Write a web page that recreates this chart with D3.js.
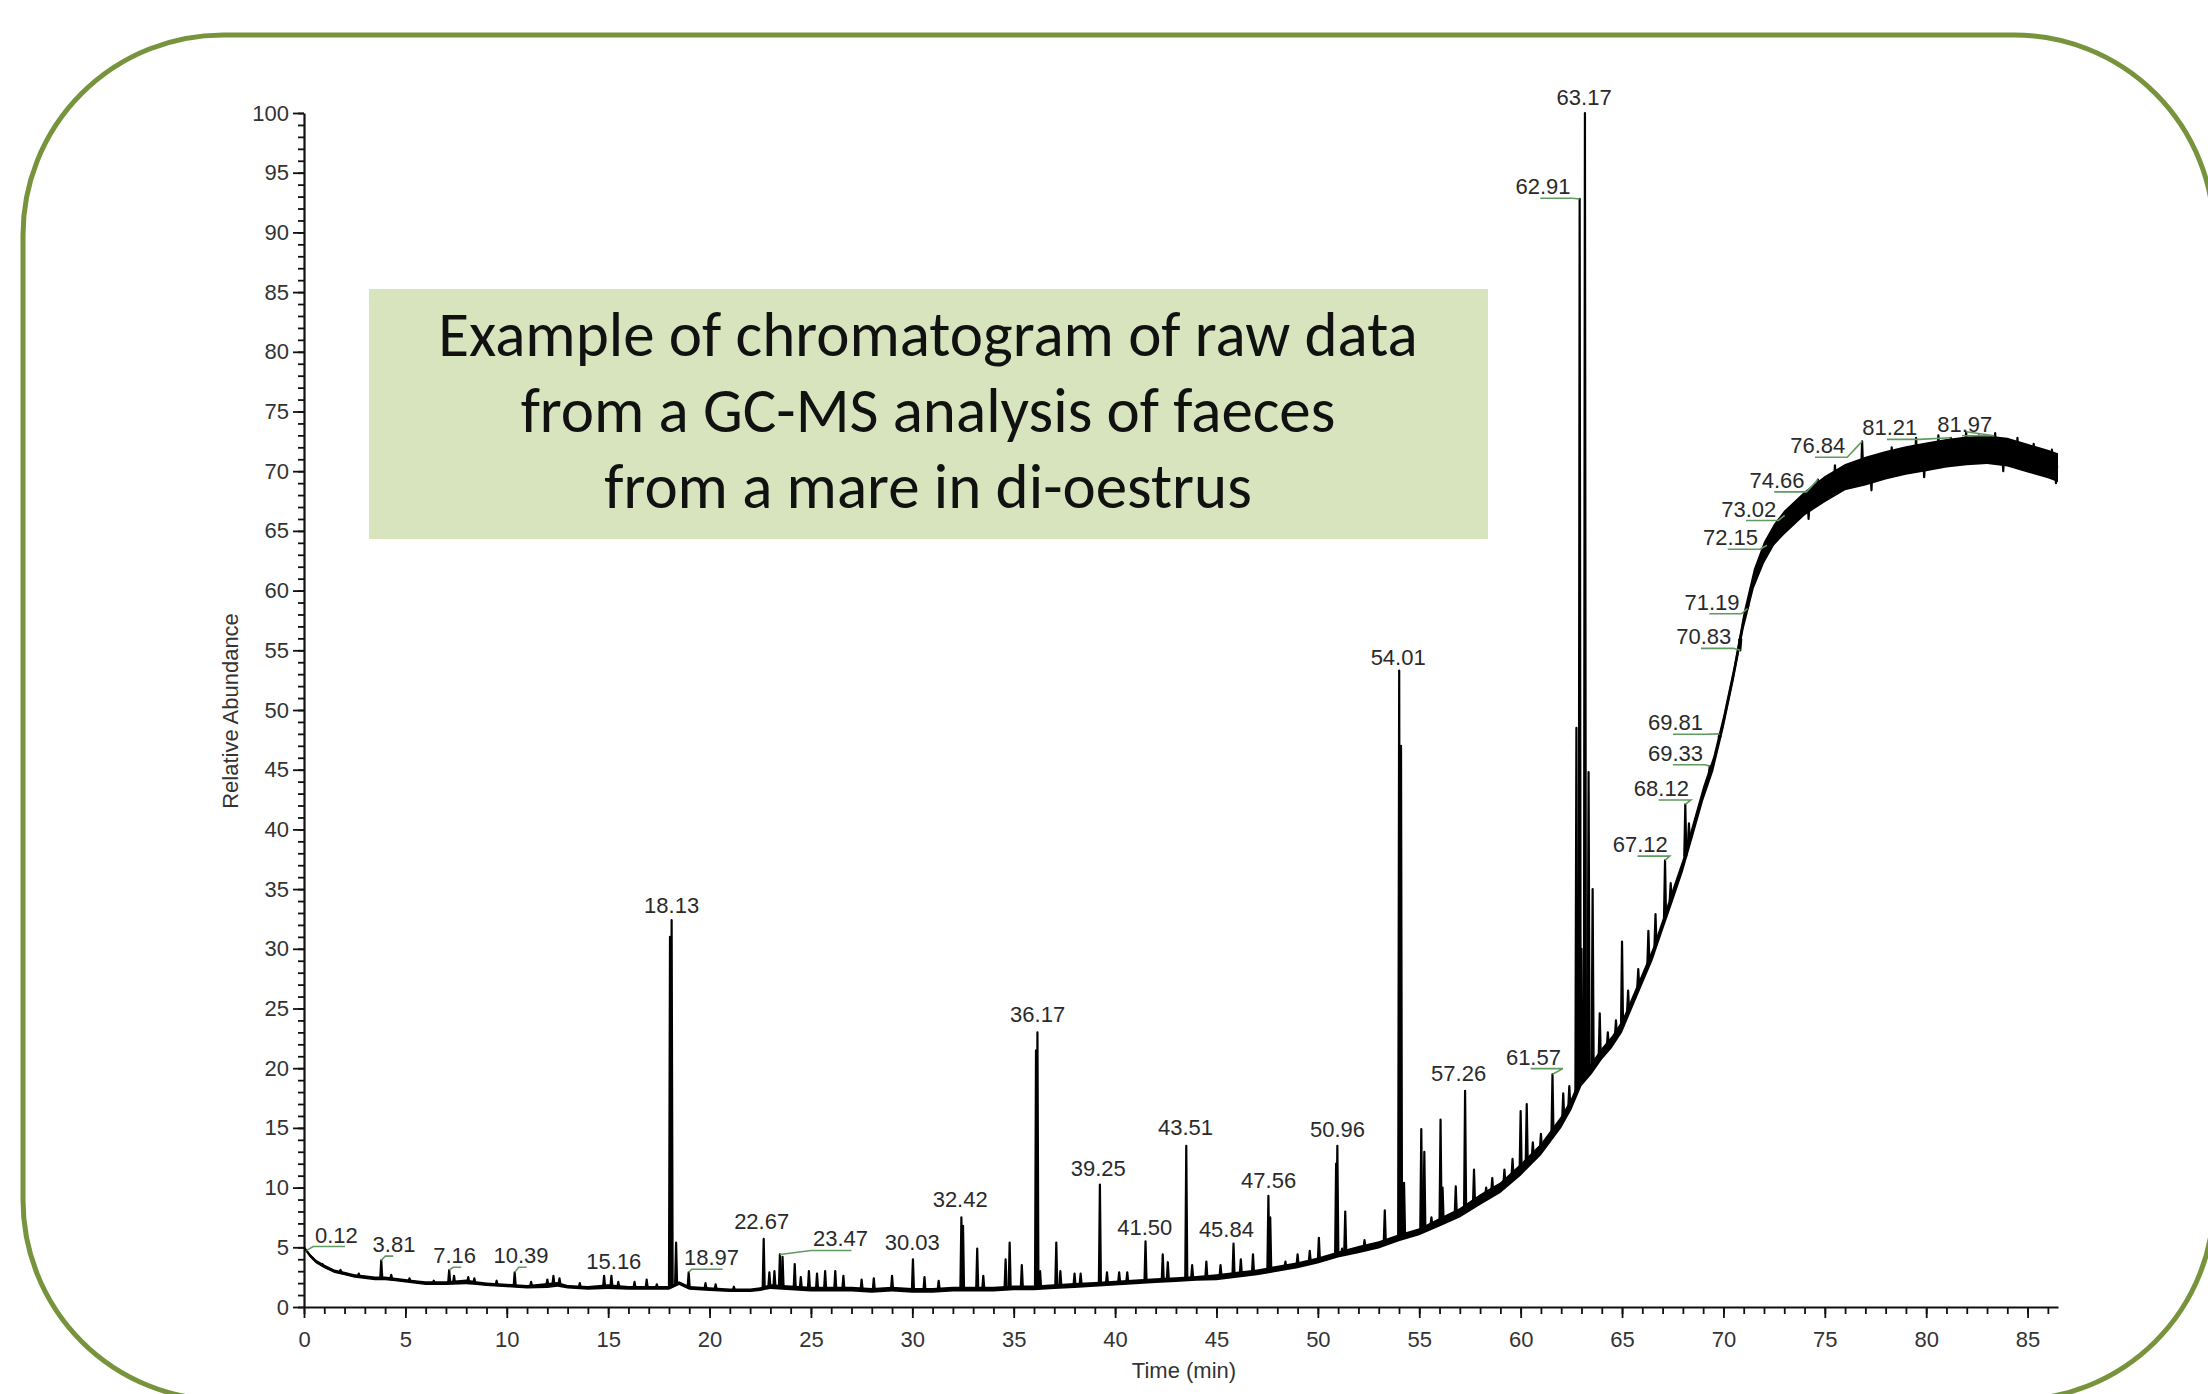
<!DOCTYPE html>
<html>
<head>
<meta charset="utf-8">
<script src="https://cdn.jsdelivr.net/npm/d3@7"></script>
<style>
  html, body { margin: 0; padding: 0; background: #fff; }
  svg { display: block; }
</style>
</head>
<body>
<div id="chart"></div>
<script>
// trace: [time (min), baseline level, half-thickness of the noisy band]
const trace = [
  [0, 5.0, 0.1], [0.3, 4.3, 0.15], [0.6, 3.8, 0.15], [1, 3.4, 0.15], [1.5, 3.0, 0.15],
  [2, 2.8, 0.15], [2.5, 2.6, 0.15], [3, 2.5, 0.15], [3.5, 2.4, 0.15], [4, 2.4, 0.15],
  [4.5, 2.3, 0.15], [5, 2.2, 0.15], [5.5, 2.1, 0.15], [6, 2.0, 0.15], [7, 2.0, 0.15],
  [8, 2.1, 0.2], [8.5, 2.0, 0.15], [9, 1.9, 0.15], [10, 1.8, 0.15], [11, 1.7, 0.15],
  [12, 1.8, 0.2], [12.5, 1.9, 0.2], [13, 1.7, 0.15], [14, 1.6, 0.15], [15, 1.7, 0.2],
  [16, 1.6, 0.15], [17, 1.6, 0.15], [18, 1.6, 0.15], [18.5, 2.0, 0.15], [19, 1.6, 0.15],
  [20, 1.5, 0.15], [21, 1.4, 0.15], [22, 1.4, 0.15], [22.5, 1.5, 0.15], [23, 1.7, 0.2],
  [24, 1.6, 0.2], [25, 1.5, 0.2], [26, 1.5, 0.2], [27, 1.5, 0.2], [28, 1.4, 0.2],
  [29, 1.5, 0.2], [30, 1.4, 0.2], [31, 1.4, 0.2], [32, 1.5, 0.2], [33, 1.5, 0.2],
  [34, 1.5, 0.2], [35, 1.6, 0.2], [36, 1.6, 0.2], [37, 1.7, 0.2], [38, 1.8, 0.2],
  [39, 1.9, 0.2], [40, 2.0, 0.2], [41, 2.1, 0.2], [42, 2.2, 0.2], [43, 2.3, 0.2],
  [44, 2.4, 0.2], [45, 2.5, 0.25], [46, 2.7, 0.25], [47, 2.9, 0.25], [48, 3.2, 0.25],
  [49, 3.5, 0.25], [50, 3.9, 0.25], [51, 4.4, 0.25], [52, 4.8, 0.3], [53, 5.2, 0.3],
  [54, 5.8, 0.3], [55, 6.3, 0.3], [56, 7.1, 0.35], [57, 7.9, 0.4], [58, 9.0, 0.45],
  [59, 10.0, 0.45], [60, 11.5, 0.5], [61, 13.2, 0.5], [62, 15.5, 0.5], [62.5, 17.0, 0.5],
  [63, 19.0, 0.5], [63.5, 20.0, 0.5], [64, 21.2, 0.5], [64.5, 22.2, 0.5], [65, 23.5, 0.5],
  [65.5, 25.5, 0.5], [66, 27.5, 0.5], [66.5, 29.5, 0.5], [67, 32.0, 0.5], [67.5, 34.5, 0.55],
  [68, 37.0, 0.55], [68.5, 40.0, 0.6], [69, 43.0, 0.6], [69.5, 45.5, 0.6], [70, 49.0, 0.6],
  [70.5, 53.0, 0.6], [71, 57.5, 0.7], [71.5, 61.0, 0.8], [72, 63.2, 0.9], [72.5, 64.7, 0.9],
  [73, 65.7, 1.0], [74, 67.3, 1.0], [75, 68.5, 1.1], [76, 69.5, 1.1], [77, 70.0, 1.2],
  [78, 70.5, 1.2], [79, 70.9, 1.2], [80, 71.2, 1.2], [81, 71.5, 1.2], [82, 71.7, 1.2],
  [83, 71.8, 1.2], [84, 71.6, 1.2], [85, 71.1, 1.2], [86, 70.6, 1.2], [86.5, 70.3, 1.2]
];

// peaks: [retention time, apex abundance]
const peaks = [
  [0.9, 3.6], [1.8, 3.1], [2.7, 2.8], [3.81, 3.9], [4.3, 2.7], [5.2, 2.4], [6.4, 2.2],
  [7.16, 3.1], [7.4, 2.6], [8.1, 2.5], [8.4, 2.4], [9.5, 2.2], [10.39, 2.9], [11.2, 2.1],
  [12.0, 2.3], [12.3, 2.6], [12.6, 2.4], [13.6, 2.0], [14.8, 2.6], [15.16, 2.6],
  [15.5, 2.1], [16.3, 2.1], [16.9, 2.3], [17.4, 1.9],
  [18.05, 31.0], [18.13, 32.4], [18.35, 5.4], [18.97, 2.9], [19.8, 2.0], [20.3, 1.9],
  [21.2, 1.7], [22.67, 5.7], [22.95, 2.9], [23.2, 3.0], [23.47, 4.4], [23.6, 4.2], [24.2, 3.6],
  [24.5, 2.5], [24.9, 3.0], [25.3, 2.8], [25.7, 3.0], [26.2, 3.0], [26.6, 2.6],
  [27.5, 2.3], [28.1, 2.4], [29.0, 2.6], [30.03, 4.0], [30.6, 2.5], [31.3, 2.2],
  [32.42, 7.5], [32.5, 6.8], [33.2, 4.9], [33.5, 2.6], [34.6, 4.0], [34.8, 5.4],
  [35.4, 3.5], [36.1, 21.5], [36.17, 23.0], [36.3, 3.0], [37.1, 5.4], [37.3, 3.0],
  [38.0, 2.8], [38.3, 2.8], [39.25, 10.25], [39.6, 2.9], [40.2, 2.9], [40.6, 2.9],
  [41.5, 5.5], [42.35, 4.4], [42.6, 3.75], [43.51, 13.5], [43.8, 3.5], [44.5, 3.8],
  [45.2, 3.5], [45.84, 5.3], [46.2, 4.0], [46.8, 4.4], [47.56, 9.3], [47.65, 7.5],
  [48.4, 3.8], [49.0, 4.4], [49.6, 4.7], [50.05, 5.8], [50.9, 12.0], [50.96, 13.5],
  [51.2, 4.9], [51.35, 8.0], [52.3, 5.6], [53.3, 8.1], [54.01, 53.3], [54.1, 47.0],
  [54.25, 10.4], [55.1, 14.9], [55.25, 13.0], [55.6, 7.5], [56.05, 15.7], [56.15, 10.0],
  [56.8, 10.1], [57.26, 18.1], [57.7, 11.5], [58.3, 10.0], [58.6, 10.8], [59.2, 11.5],
  [59.6, 12.4], [60.0, 16.4], [60.3, 17.0], [60.6, 13.8], [61.0, 14.5], [61.57, 19.5],
  [62.1, 17.9], [62.4, 18.5], [62.75, 48.5], [62.91, 92.8], [63.0, 30.0], [63.17, 100],
  [63.35, 44.8], [63.55, 35.0], [63.9, 24.6], [64.3, 23.0], [64.7, 24.0], [65.0, 30.6],
  [65.3, 26.5], [65.8, 28.3], [66.3, 31.5], [66.65, 32.9], [67.12, 37.4], [67.4, 35.5],
  [68.12, 42.1], [68.3, 40.5], [69.33, 45.3], [69.81, 48.0], [70.83, 55.0], [71.19, 58.5],
  [72.15, 63.8], [73.02, 66.3], [74.2, 66.0], [74.66, 69.3], [75.5, 70.5], [76.84, 72.5],
  [77.3, 68.4], [78.3, 72.0], [79.5, 72.8], [79.9, 69.5], [80.6, 73.0], [81.21, 72.8],
  [81.97, 73.3], [82.6, 73.0], [83.4, 73.2], [83.8, 70.0], [84.5, 72.8], [85.3, 72.3],
  [86.2, 71.8], [86.4, 69.0]
];

// peak labels: [text, label time, label abundance (text baseline), leader: 0 none, 1 short, 2 full]
const peakLabels = [
  ["0.12", 1.6, 5.4, 2], ["3.81", 4.44, 4.6, 1], ["7.16", 7.43, 3.66, 1],
  ["10.39", 10.7, 3.66, 1], ["15.16", 15.28, 3.2, 0], ["18.13", 18.13, 33.0, 0],
  ["18.97", 20.1, 3.5, 2], ["22.67", 22.57, 6.5, 0], ["23.47", 26.46, 5.07, 2],
  ["30.03", 30.0, 4.8, 0], ["32.42", 32.36, 8.4, 0], ["36.17", 36.18, 23.9, 0],
  ["39.25", 39.17, 11.0, 0], ["41.50", 41.46, 6.0, 0], ["43.51", 43.47, 14.4, 0],
  ["45.84", 45.49, 5.9, 0], ["47.56", 47.57, 10.0, 0], ["50.96", 50.97, 14.2, 0],
  ["54.01", 53.96, 53.8, 0], ["57.26", 56.94, 18.9, 0], ["61.57", 60.63, 20.3, 2],
  ["63.17", 63.13, 100.7, 0], ["62.91", 61.1, 93.2, 2], ["67.12", 65.9, 38.1, 2],
  ["68.12", 66.94, 42.8, 2], ["69.33", 67.64, 45.75, 2], ["69.81", 67.64, 48.3, 2],
  ["70.83", 69.03, 55.5, 2], ["71.19", 69.44, 58.4, 2], ["72.15", 70.35, 63.8, 2],
  ["73.02", 71.25, 66.2, 2], ["74.66", 72.64, 68.6, 2], ["76.84", 74.65, 71.5, 2],
  ["81.21", 78.2, 73.0, 2], ["81.97", 81.9, 73.3, 2]
];

const xTicks = [0, 5, 10, 15, 20, 25, 30, 35, 40, 45, 50, 55, 60, 65, 70, 75, 80, 85];
const yTicks = [0, 5, 10, 15, 20, 25, 30, 35, 40, 45, 50, 55, 60, 65, 70, 75, 80, 85, 90, 95, 100];

const titleLines = [
  "Example of chromatogram of raw data",
  "from a GC-MS analysis of faeces",
  "from a mare in di-oestrus"
];

const width = 2208,
  height = 1394;
const axisFont = "'Liberation Sans', Arial, sans-serif";

const svg = d3
  .select("#chart")
  .append("svg")
  .attr("width", width)
  .attr("height", height)
  .attr("viewBox", [0, 0, width, height]);

svg.append("rect").attr("width", width).attr("height", height).attr("fill", "#fff");

// rounded green frame (runs off the right/bottom edges a bit)
svg
  .append("rect")
  .attr("x", 23)
  .attr("y", 35)
  .attr("width", 2191)
  .attr("height", 1365)
  .attr("rx", 200)
  .attr("fill", "none")
  .attr("stroke", "#77933c")
  .attr("stroke-width", 5);

let x = d3.scaleLinear().domain([0, 86.5]).range([304, 2058]);
let y = d3.scaleLinear().domain([0, 100]).range([1307, 113]);

// minor ticks first, majors with labels on top
svg
  .append("g")
  .attr("transform", `translate(${x(0)},0)`)
  .call(d3.axisLeft(y).tickValues(d3.range(0, 101, 1)).tickSize(6).tickFormat("").tickSizeOuter(0))
  .call((g) => g.select(".domain").remove());

svg
  .append("g")
  .attr("transform", `translate(0,${y(0)})`)
  .call(d3.axisBottom(x).tickValues(d3.range(0, 87, 1)).tickSize(7).tickFormat("").tickSizeOuter(0))
  .call((g) => g.select(".domain").remove());

const yAxis = svg
  .append("g")
  .attr("transform", `translate(${x(0)},0)`)
  .call(d3.axisLeft(y).tickValues(yTicks).tickSize(11).tickPadding(4).tickSizeOuter(0));

const xAxis = svg
  .append("g")
  .attr("transform", `translate(0,${y(0)})`)
  .call(d3.axisBottom(x).tickValues(xTicks).tickSize(11).tickPadding(13).tickSizeOuter(0));

svg.selectAll(".tick line").attr("stroke", "#111").attr("stroke-width", 1.8);
svg.selectAll(".domain").attr("stroke", "#111").attr("stroke-width", 2.2);
[xAxis, yAxis].forEach((g) =>
  g.selectAll("text").attr("font-family", axisFont).attr("font-size", 22).attr("fill", "#333")
);

svg
  .append("text")
  .attr("transform", "translate(232,711) rotate(-90)")
  .attr("text-anchor", "middle")
  .attr("dominant-baseline", "middle")
  .attr("font-family", axisFont)
  .attr("font-size", 22)
  .attr("fill", "#333")
  .text("Relative Abundance");

svg
  .append("text")
  .attr("x", 1184)
  .attr("y", 1378)
  .attr("text-anchor", "middle")
  .attr("font-family", axisFont)
  .attr("font-size", 22)
  .attr("fill", "#333")
  .text("Time (min)");

// the trace: noisy band + centre line
let band = d3
  .area()
  .x((d) => x(d[0]))
  .y0((d) => y(d[1] - d[2]))
  .y1((d) => y(d[1] + d[2]));

let line = d3
  .line()
  .x((d) => x(d[0]))
  .y((d) => y(d[1]));

svg.append("path").datum(trace).attr("d", band).attr("fill", "#000");
svg
  .append("path")
  .datum(trace)
  .attr("d", line)
  .attr("fill", "none")
  .attr("stroke", "#000")
  .attr("stroke-width", 2.2)
  .attr("stroke-linejoin", "round");

// baseline level under a peak, for the foot of each stick
const bisect = d3.bisector((d) => d[0]).left;
function levelAt(t) {
  let i = bisect(trace, t);
  if (i <= 0) return trace[0][1];
  if (i >= trace.length) return trace[trace.length - 1][1];
  let a = trace[i - 1],
    b = trace[i];
  return a[1] + ((b[1] - a[1]) * (t - a[0])) / (b[0] - a[0]);
}

svg
  .append("g")
  .selectAll("path")
  .data(peaks)
  .join("path")
  .attr("d", (d) => {
    let base = levelAt(d[0]);
    return `M${x(d[0] - 0.05)},${y(base)}L${x(d[0])},${y(d[1])}L${x(d[0] + 0.05)},${y(base)}`;
  })
  .attr("fill", "#000")
  .attr("stroke", "#000")
  .attr("stroke-width", 2.2)
  .attr("stroke-linejoin", "round");

// peak labels with green leaders
const labelG = svg.append("g");
for (let [txt, lt, lv, lead] of peakLabels) {
  let t = labelG
    .append("text")
    .attr("x", x(lt))
    .attr("y", y(lv))
    .attr("text-anchor", "middle")
    .attr("font-family", axisFont)
    .attr("font-size", 22)
    .attr("fill", "#2a2a2a")
    .text(txt);
  if (!lead) continue;

  let bb = t.node().getBBox();
  let pt = +txt;
  let pk = peaks.find((p) => Math.abs(p[0] - pt) < 0.06);
  let px = x(pt),
    py = y(pk ? pk[1] : levelAt(pt));
  let ul = y(lv) + 4;
  let pts;
  if (lead === 1) {
    pts = [[px, py], [px + 4, ul], [px + 12, ul]];
  } else if (x(lt) > px) {
    pts = [[px, py], [Math.max(px + 3, bb.x - 2), ul], [bb.x + bb.width * 0.7, ul]];
  } else {
    pts = [[bb.x + bb.width * 0.45, ul], [bb.x + bb.width + 2, ul], [px, py]];
  }
  labelG
    .append("path")
    .attr("d", d3.line()(pts))
    .attr("fill", "none")
    .attr("stroke", "#5f9a5f")
    .attr("stroke-width", 1.6);
}

// title box
svg
  .append("rect")
  .attr("x", 369)
  .attr("y", 289)
  .attr("width", 1119)
  .attr("height", 250)
  .attr("fill", "#d7e4bd");

const tg = svg
  .append("g")
  .attr("font-family", "Carlito, Lato, 'Open Sans', sans-serif")
  .attr("font-size", 63)
  .attr("fill", "#111");

titleLines.forEach((s, i) => {
  tg.append("text")
    .attr("x", 928)
    .attr("y", 356 + i * 76)
    .attr("text-anchor", "middle")
    .text(s);
});

// fit the first line to the width it has in the picture
let w0 = tg.select("text").node().getComputedTextLength();
tg.attr("font-size", 63 * Math.min(1, 991 / w0));
</script>
</body>
</html>
